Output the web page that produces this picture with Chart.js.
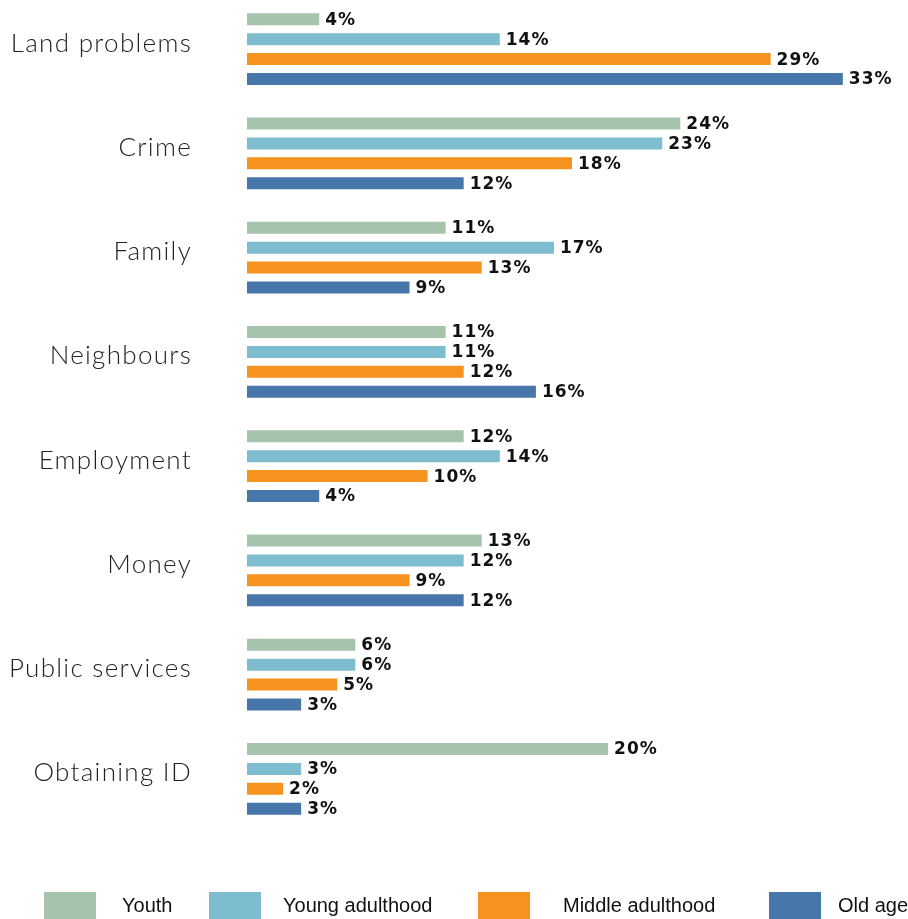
<!DOCTYPE html>
<html>
<head>
<meta charset="utf-8">
<script src="https://cdn.jsdelivr.net/npm/chart.js@4"></script>
<style>
  html, body { margin:0; padding:0; background:#fff; overflow:hidden; }
  #wrap { position:relative; top:-3px; width:908px; height:922px; }
</style>
</head>
<body>
<div id="wrap"><canvas id="chart"></canvas></div>
<script>
// categories + series (percent)
const categories = ['Land problems','Crime','Family','Neighbours','Employment','Money','Public services','Obtaining ID'];
const youth       = [4, 24, 11, 11, 12, 13, 6, 20];
const youngAdult  = [14, 23, 17, 11, 14, 12, 6, 3];
const middleAdult = [29, 18, 13, 12, 10, 9, 5, 2];
const oldAge      = [33, 12, 9, 16, 4, 12, 3, 3];
const seriesNames = ['Youth','Young adulthood','Middle adulthood','Old age'];
const colors = ['#a6c4ab','#7ebccf','#f6921e','#4777aa'];

// wider tracking for the category labels (drawn by the y axis)
const spacing = {
  id:'spacing',
  beforeDraw(chart) { chart.ctx.letterSpacing = '1.3px'; },
  beforeDatasetsDraw(chart) { chart.ctx.letterSpacing = '0px'; }
};

// value labels at bar ends
const valueLabels = {
  id:'valueLabels',
  afterDatasetsDraw(chart) {
    const ctx = chart.ctx;
    ctx.save();
    ctx.font = 'bold 17px "DejaVu Sans", sans-serif';
    ctx.letterSpacing = '1px';
    ctx.fillStyle = '#111';
    ctx.textAlign = 'left';
    ctx.textBaseline = 'middle';
    chart.data.datasets.forEach((ds, i) => {
      chart.getDatasetMeta(i).data.forEach((bar, j) => {
        ctx.fillText(ds.data[j] + '%', bar.x + 6, bar.y + 1);
      });
    });
    ctx.letterSpacing = '0px';
    ctx.restore();
  }
};

// legend along the bottom, spaced like the original
const bottomLegend = {
  id:'bottomLegend',
  afterDraw(chart) {
    const ctx = chart.ctx;
    const boxX = [44, 209, 478, 769], textX = [122, 283, 563, 838];
    const top = chart.height - 27;
    ctx.save();
    ctx.font = '20px "Liberation Sans", Arial, sans-serif';
    ctx.textBaseline = 'middle';
    chart.data.datasets.forEach((ds, i) => {
      ctx.fillStyle = ds.backgroundColor;
      ctx.fillRect(boxX[i], top, 52, 27);
      ctx.fillStyle = '#111';
      ctx.fillText(ds.label, textX[i], top + 14);
    });
    ctx.restore();
  }
};

const seriesData = [youth, youngAdult, middleAdult, oldAge];

new Chart(document.getElementById('chart'), {
  type:'bar',
  data:{
    labels: categories,
    datasets: seriesData.map((d, i) => ({
      label: seriesNames[i], data: d, backgroundColor: colors[i],
      barPercentage: 0.6, categoryPercentage: 0.765
    }))
  },
  options:{
    indexAxis:'y',
    responsive:true,
    maintainAspectRatio:false,
    animation:false,
    layout:{ padding:{ left:0, right:11, top:0, bottom:88 } },
    plugins:{ legend:{ display:false }, tooltip:{ enabled:false } },
    scales:{
      x:{ display:false, min:0, max:36 },
      y:{
        grid:{ display:false }, border:{ display:false },
        afterFit(scale) { scale.width = 247; scale.paddingTop = 0; scale.paddingBottom = 0; },
        ticks:{ color:'#222', padding:47, labelOffset:-6,
          font:{ family:'Lato, "Noto Sans", sans-serif', size:26, weight:300 } }
      }
    }
  },
  plugins:[spacing, valueLabels, bottomLegend]
});
</script>
</body>
</html>
